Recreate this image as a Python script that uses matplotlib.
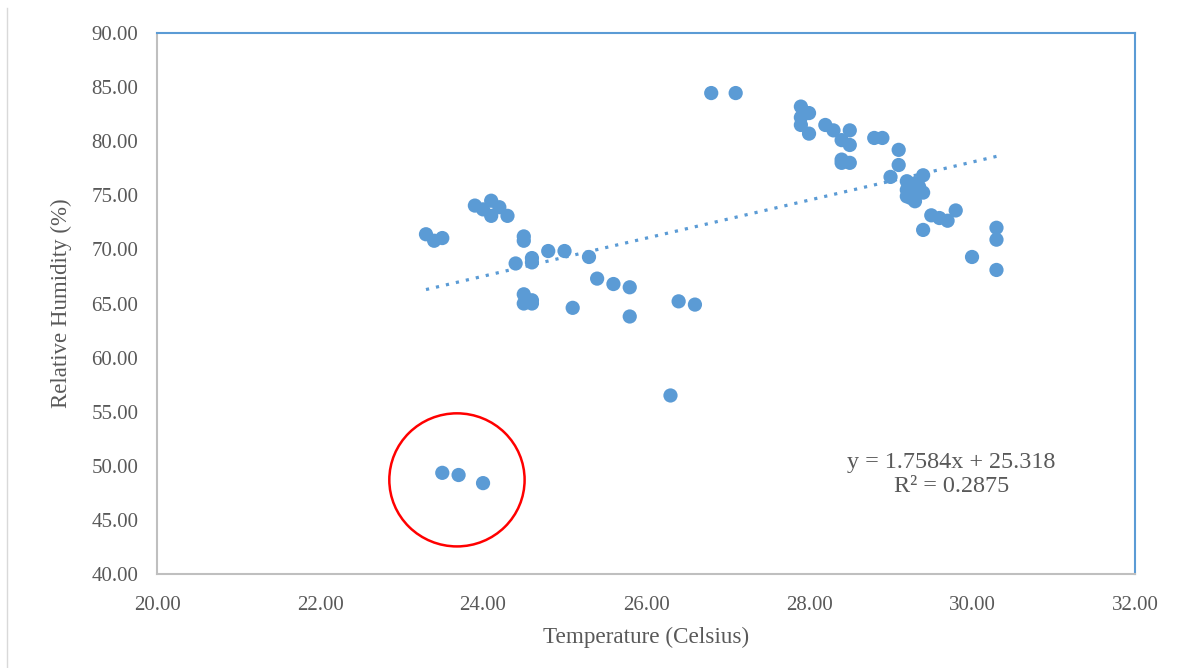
import numpy as np
import matplotlib.pyplot as plt
from matplotlib.patches import Ellipse
from matplotlib.lines import Line2D

# temperature (Celsius) and relative humidity (%)
temperature = [23.30, 23.40, 23.50, 23.90, 24.00, 24.10, 24.10, 24.20, 24.30,
               24.50, 24.50, 24.40, 24.60, 24.60, 24.80, 25.00, 25.30, 25.40,
               25.60, 25.80, 24.50, 24.50, 24.60, 24.60, 25.10, 25.80, 26.40,
               26.60, 26.30, 26.80, 27.10, 23.50, 23.70, 24.00,
               27.90, 28.00, 27.90, 27.90, 28.00, 28.20, 28.30, 28.50, 28.40,
               28.50, 28.40, 28.50, 28.40, 28.80, 28.90, 29.10, 29.10, 29.00,
               29.40, 29.20, 29.30, 29.20, 29.30, 29.40, 29.25, 29.30, 29.35,
               29.20, 29.80, 29.50, 29.60, 29.70, 29.40, 30.30, 30.30, 30.00,
               30.30]
humidity = [71.4, 70.8, 71.05, 74.05, 73.7, 74.5, 73.1, 73.9, 73.1,
            71.2, 70.8, 68.7, 69.2, 68.8, 69.85, 69.85, 69.3, 67.3,
            66.8, 66.5, 65.85, 65.0, 65.3, 65.0, 64.6, 63.8, 65.2,
            64.9, 56.5, 84.45, 84.45, 49.35, 49.15, 48.4,
            83.2, 82.6, 82.2, 81.5, 80.7, 81.5, 81.0, 81.0, 80.1,
            79.65, 78.3, 78.0, 78.0, 80.3, 80.3, 79.2, 77.8, 76.7,
            76.85, 76.3, 76.1, 75.5, 75.2, 75.25, 74.75, 74.45, 75.8,
            74.9, 73.6, 73.15, 72.9, 72.65, 71.8, 72.0, 70.9, 69.3,
            68.1]

# linear trend given on the chart
slope = 1.7584
intercept = 25.318
r_squared = 0.2875

# outliers that are circled in red
circle_center = (23.68, 48.7)

blue = "#5B9BD5"
grey_text = "#595959"
plt.rcParams['font.family'] = ['Liberation Serif', 'DejaVu Serif']

fig = plt.figure(figsize=(11.79, 6.68), dpi=100)
ax = fig.add_axes([0.1332, 0.1407, 0.8295, 0.8099])

ax.scatter(temperature, humidity, s=105, color=blue, edgecolors='none', zorder=3)

# dotted trend line over the data range
xs = np.array([min(temperature), max(temperature)])
ax.plot(xs, slope * xs + intercept, linestyle=(0, (1, 2.2)), color=blue, linewidth=2.3, zorder=2)

ax.add_patch(Ellipse(circle_center, width=1.66, height=12.3, fill=False,
                     edgecolor='red', linewidth=1.8, zorder=4))

ax.text(29.75, 49.2, "y = 1.7584x + 25.318\nR² = %.4f" % r_squared, ha='center', va='center',
        fontsize=17.4, color=grey_text, linespacing=1.15)

ax.set_xlim(20, 32)
ax.set_ylim(40, 90)
ax.set_xticks(np.arange(20, 33, 2))
ax.set_yticks(np.arange(40, 91, 5))
ax.set_xticklabels(["%.2f" % v for v in np.arange(20, 33, 2)])
ax.set_yticklabels(["%.2f" % v for v in np.arange(40, 91, 5)])
ax.tick_params(length=0, labelsize=15, colors=grey_text)
ax.tick_params(axis='y', pad=13.5)
ax.tick_params(axis='x', pad=15.5)

ax.spines['left'].set_color("#BFBFBF")
ax.spines['bottom'].set_color("#BFBFBF")
ax.spines['top'].set_color(blue)
ax.spines['right'].set_color(blue)
for s in ax.spines.values():
    s.set_linewidth(1.5)

ax.set_xlabel("Temperature (Celsius)", fontsize=16.7, color=grey_text, labelpad=9)
ax.set_ylabel("Relative Humidity (%)", fontsize=16.5, color=grey_text, labelpad=14)

# thin screenshot border on the left
fig.add_artist(Line2D([0.006, 0.006], [0.0, 0.988], color="#D9D9D9", linewidth=1))

fig.savefig("out.png", dpi=100)
